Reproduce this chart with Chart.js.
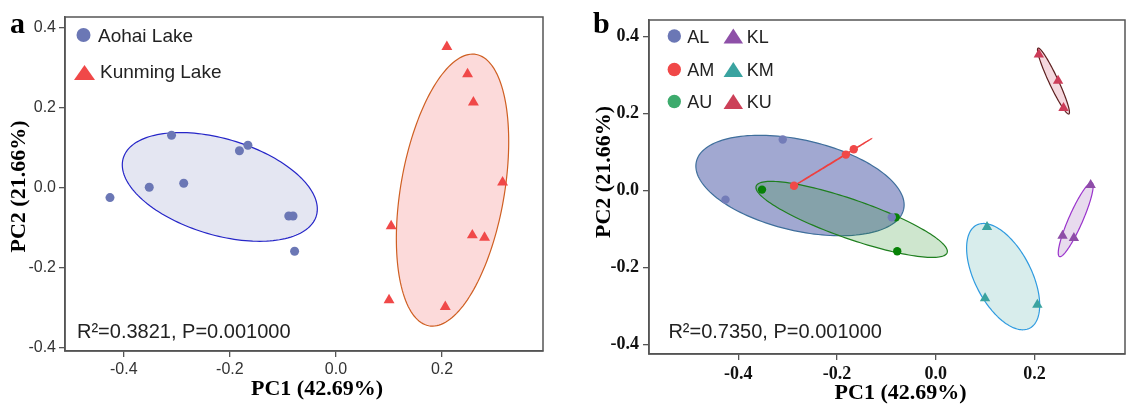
<!DOCTYPE html>
<html>
<head>
<meta charset="utf-8">
<script src="https://cdn.jsdelivr.net/npm/chart.js@4.4.0/dist/chart.umd.min.js"></script>
<style>
  html, body { margin: 0; padding: 0; background: #fff; }
  #wrap { position: relative; width: 1131px; height: 405px; overflow: hidden; }
  canvas { position: absolute; top: 0; }
  #pcaA { left: 0; }
  #pcaB { left: 566px; }
</style>
</head>
<body>
<div id="wrap">
  <canvas id="pcaA" width="566" height="405"></canvas>
  <canvas id="pcaB" width="565" height="405"></canvas>
</div>
<script>
// ---------- Scores PC1 / PC2 (3 amostras por ponto) ----------
const AL_PC1 = [-0.426, -0.310, -0.089];
const AL_PC2 = [-0.024, 0.132, -0.070];
const AM_PC1 = [-0.287, -0.182, -0.166];
const AM_PC2 = [0.012, 0.093, 0.107];
const AU_PC1 = [-0.352, -0.081, -0.078];
const AU_PC2 = [0.002, -0.070, -0.158];
const KL_PC1 = [0.314, 0.257, 0.280];
const KL_PC2 = [0.014, -0.118, -0.124];
const KM_PC1 = [0.104, 0.100, 0.206];
const KM_PC2 = [-0.095, -0.280, -0.297];
const KU_PC1 = [0.209, 0.248, 0.259];
const KU_PC2 = [0.353, 0.285, 0.214];

const SITES = ['AL', 'AM', 'AU', 'KL', 'KM', 'KU'];
const LAKES = ['Aohai Lake', 'Kunming Lake'];
const X_TICKS = [-0.4, -0.2, 0.0, 0.2];
const Y_TICKS = [-0.4, -0.2, 0.0, 0.2, 0.4];
const X_TITLE = 'PC1 (42.69%)';
const Y_TITLE = 'PC2 (21.66%)';
const STATS_A = 'R²=0.3821, P=0.001000';
const STATS_B = 'R²=0.7350, P=0.001000';
const ELLIPSE_LEVEL = 0.68;

// ---------- Helpers ----------
const pts = (xs, ys) => xs.map((x, i) => ({ x, y: ys[i] }));
const site = {
  AL: pts(AL_PC1, AL_PC2), AM: pts(AM_PC1, AM_PC2), AU: pts(AU_PC1, AU_PC2),
  KL: pts(KL_PC1, KL_PC2), KM: pts(KM_PC1, KM_PC2), KU: pts(KU_PC1, KU_PC2)
};
const fmt = v => (Math.abs(v) < 1e-9 ? 0 : v).toFixed(1);

// elipse de covariância (normal, nível ELLIPSE_LEVEL)
const K = Math.sqrt(-2 * Math.log(1 - ELLIPSE_LEVEL));
function ellipseOutline(points, steps) {
  const n = points.length;
  const mx = points.reduce((s, p) => s + p.x, 0) / n;
  const my = points.reduce((s, p) => s + p.y, 0) / n;
  let sxx = 0, syy = 0, sxy = 0;
  points.forEach(p => {
    const dx = p.x - mx, dy = p.y - my;
    sxx += dx * dx; syy += dy * dy; sxy += dx * dy;
  });
  sxx /= n; syy /= n; sxy /= n;
  const half = (sxx + syy) / 2;
  const d = Math.sqrt(Math.max(half * half - (sxx * syy - sxy * sxy), 0));
  const a = Math.sqrt(half + d) * K, b = Math.sqrt(Math.max(half - d, 0)) * K;
  const th = Math.atan2(half + d - sxx, sxy);
  const out = [];
  for (let i = 0; i <= steps; i++) {
    const t = i / steps * Math.PI * 2;
    const u = a * Math.cos(t), v = b * Math.sin(t);
    out.push({ x: mx + u * Math.cos(th) - v * Math.sin(th), y: my + u * Math.sin(th) + v * Math.cos(th) });
  }
  return out;
}

const ellipsePlugin = {
  id: 'ellipses',
  beforeDatasetsDraw(chart) {
    const { ctx, chartArea: a, scales: { x, y } } = chart;
    ctx.save();
    ctx.beginPath();
    ctx.rect(a.left, a.top, a.right - a.left, a.bottom - a.top);
    ctx.clip();
    chart.data.datasets.forEach(ds => {
      if (!ds.ellipseStroke) return;
      ctx.beginPath();
      ellipseOutline(ds.data, 160).forEach((p, i) => {
        const px = x.getPixelForValue(p.x), py = y.getPixelForValue(p.y);
        if (i) ctx.lineTo(px, py); else ctx.moveTo(px, py);
      });
      ctx.closePath();
      ctx.fillStyle = ds.ellipseFill;
      ctx.fill();
      ctx.lineWidth = 1.2;
      ctx.strokeStyle = ds.ellipseStroke;
      ctx.stroke();
    });
    ctx.restore();
  }
};

function drawMarker(ctx, m) {
  ctx.fillStyle = m.color;
  ctx.beginPath();
  if (m.shape === 'circle') {
    ctx.arc(m.mx, m.my, m.r, 0, Math.PI * 2);
  } else {
    ctx.moveTo(m.mx, m.my - m.h / 2);
    ctx.lineTo(m.mx + m.w / 2, m.my + m.h / 2);
    ctx.lineTo(m.mx - m.w / 2, m.my + m.h / 2);
    ctx.closePath();
  }
  ctx.fill();
}

// moldura, legenda e textos de cada painel
function makeDecor(cfg) {
  return {
    id: 'decor',
    afterDraw(chart) {
      const { ctx, chartArea: a } = chart;
      ctx.save();
      ctx.strokeStyle = '#555';
      ctx.lineWidth = 1.5;
      ctx.strokeRect(a.left, a.top, a.right - a.left, a.bottom - a.top);
      ctx.textAlign = 'left';
      ctx.textBaseline = 'alphabetic';
      cfg.legend.forEach(it => {
        drawMarker(ctx, it);
        ctx.fillStyle = '#222';
        ctx.font = cfg.legendFont;
        ctx.fillText(it.label, it.tx, it.ty);
      });
      cfg.texts.forEach(t => {
        ctx.save();
        ctx.translate(t.x, t.y);
        if (t.rot) ctx.rotate(t.rot);
        ctx.font = t.font;
        ctx.fillStyle = t.color || '#000';
        ctx.textAlign = t.align || 'left';
        ctx.textBaseline = t.base || 'alphabetic';
        ctx.fillText(t.text, 0, 0);
        ctx.restore();
      });
      ctx.restore();
    }
  };
}

function axes(o) {
  const common = (ticks, fitKey, fitVal, min, max) => ({
    type: 'linear', min, max,
    afterBuildTicks: s => { s.ticks = ticks.map(v => ({ value: v })); },
    afterFit: s => { s[fitKey] = fitVal; },
    ticks: { callback: fmt, font: o.tickFont, color: o.tickColor, padding: o.tickPad },
    grid: { drawOnChartArea: false, drawTicks: true, tickLength: 6, color: '#555', lineWidth: 1.3 },
    border: { display: true, color: '#555', width: 1.5 }
  });
  return {
    x: common(X_TICKS, 'height', o.xHeight, o.xMin, o.xMax),
    y: common(Y_TICKS, 'width', o.yWidth, o.yMin, o.yMax)
  };
}

const serifBold = size => 'bold ' + size + 'px "Liberation Serif", "Times New Roman", serif';
const sans = size => size + 'px "Liberation Sans", Arial, sans-serif';

// ---------- Painel a ----------
new Chart(document.getElementById('pcaA'), {
  type: 'scatter',
  data: {
    datasets: [
      {
        label: LAKES[0], data: [...site.AL, ...site.AM, ...site.AU],
        pointStyle: 'circle', pointRadius: 4.5, pointBorderWidth: 0,
        pointBackgroundColor: '#6b77b5', backgroundColor: '#6b77b5',
        ellipseFill: 'rgba(107,119,181,0.18)', ellipseStroke: '#2626c8'
      },
      {
        label: LAKES[1], data: [...site.KL, ...site.KM, ...site.KU],
        pointStyle: 'triangle', pointRadius: 6.3, pointBorderWidth: 0,
        pointBackgroundColor: '#f04848', backgroundColor: '#f04848',
        ellipseFill: 'rgba(240,72,72,0.2)', ellipseStroke: '#cf5f22'
      }
    ]
  },
  options: {
    responsive: false, animation: false, events: [],
    layout: { padding: { left: 0, top: 17, right: 23, bottom: 0 } },
    scales: axes({
      tickFont: { family: '"Liberation Sans", Arial, sans-serif', size: 16 }, tickColor: '#333', tickPad: 3,
      xHeight: 54, yWidth: 65, xMin: -0.5108, xMax: 0.3902, yMin: -0.4075, yMax: 0.4275
    }),
    plugins: { legend: { display: false }, tooltip: { enabled: false } }
  },
  plugins: [ellipsePlugin, makeDecor({
    legendFont: sans(19),
    legend: [
      { label: LAKES[0], shape: 'circle', color: '#6b77b5', mx: 83.5, my: 35, r: 7, tx: 98, ty: 41.7 },
      { label: LAKES[1], shape: 'triangle', color: '#f04848', mx: 84.5, my: 72.5, w: 21, h: 15, tx: 100, ty: 78.3 }
    ],
    texts: [
      { text: 'a', x: 10, y: 33, font: serifBold(30) },
      { text: X_TITLE, x: 317, y: 389, font: serifBold(22), align: 'center', base: 'middle' },
      { text: Y_TITLE, x: 19, y: 186.5, font: serifBold(22), align: 'center', base: 'middle', rot: -Math.PI / 2 },
      { text: STATS_A, x: 77, y: 338, font: sans(20), color: '#222' }
    ]
  })]
});

// ---------- Painel b ----------
const siteStyle = {
  AL: { shape: 'circle', point: '#737cb8', legend: '#6b77b5', fill: 'rgba(75,88,166,0.52)', stroke: '#3f6f9c' },
  AM: { shape: 'circle', point: '#f04848', legend: '#f04848', fill: 'rgba(240,72,72,0.3)', stroke: '#ee4040' },
  AU: { shape: 'circle', point: '#078207', legend: '#3dab6d', fill: 'rgba(30,140,30,0.22)', stroke: '#1f7f1f' },
  KL: { shape: 'triangle', point: '#8e4da8', legend: '#8e50a8', fill: 'rgba(142,77,168,0.2)', stroke: '#9a32cc' },
  KM: { shape: 'triangle', point: '#3aa3a0', legend: '#3aa3a0', fill: 'rgba(58,163,160,0.2)', stroke: '#2f9be0' },
  KU: { shape: 'triangle', point: '#cc3c58', legend: '#cc4058', fill: 'rgba(204,60,88,0.2)', stroke: '#5c1e1e' }
};

const legendB = SITES.map((s, i) => {
  const col = Math.floor(i / 3), row = i % 3;
  const st = siteStyle[s];
  const my = [36, 69.5, 101.5][row];
  return col === 0
    ? { label: s, shape: 'circle', color: st.legend, mx: 108.3, my, r: 6.7, tx: 121.3, ty: my + 6.8 }
    : { label: s, shape: 'triangle', color: st.legend, mx: 167.3, my, w: 19.5, h: 15, tx: 180.7, ty: my + 6.8 };
});

new Chart(document.getElementById('pcaB'), {
  type: 'scatter',
  data: {
    datasets: SITES.map(s => ({
      label: s, data: site[s],
      pointStyle: siteStyle[s].shape, pointRadius: siteStyle[s].shape === 'circle' ? 4.2 : 6,
      pointBorderWidth: 0, pointBackgroundColor: siteStyle[s].point, backgroundColor: siteStyle[s].point,
      ellipseFill: siteStyle[s].fill, ellipseStroke: siteStyle[s].stroke
    }))
  },
  options: {
    responsive: false, animation: false, events: [],
    layout: { padding: { left: 0, top: 20, right: 5, bottom: 0 } },
    scales: axes({
      tickFont: { family: '"Liberation Serif", "Times New Roman", serif', size: 18, weight: 'bold' }, tickColor: '#111', tickPad: 4,
      xHeight: 51, yWidth: 83, xMin: -0.581, xMax: 0.3836, yMin: -0.425, yMax: 0.4426
    }),
    plugins: { legend: { display: false }, tooltip: { enabled: false } }
  },
  plugins: [ellipsePlugin, makeDecor({
    legendFont: sans(18),
    legend: legendB,
    texts: [
      { text: 'b', x: 27, y: 33, font: serifBold(30) },
      { text: X_TITLE, x: 334.6, y: 393, font: serifBold(22), align: 'center', base: 'middle' },
      { text: Y_TITLE, x: 38, y: 172, font: serifBold(22), align: 'center', base: 'middle', rot: -Math.PI / 2 },
      { text: STATS_B, x: 102.4, y: 338, font: sans(20), color: '#222' }
    ]
  })]
});
</script>
</body>
</html>
